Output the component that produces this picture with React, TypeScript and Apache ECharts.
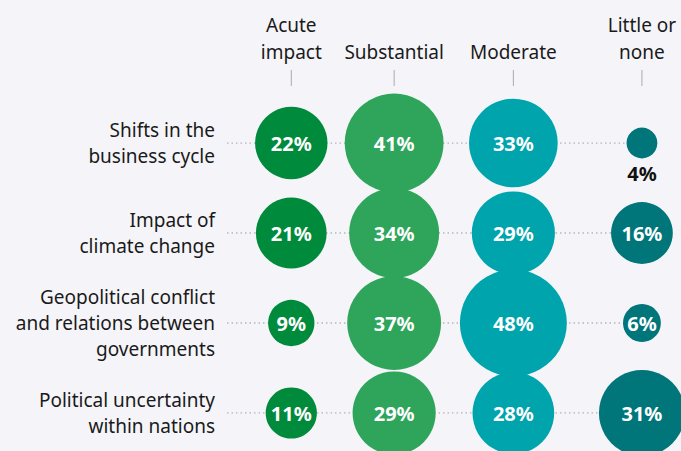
import React, { useEffect, useRef } from "react";
import * as echarts from "echarts";

const columns = ["Acute\nimpact", "Substantial", "Moderate", "Little or\nnone"];
const rows = [
  "Shifts in the\nbusiness cycle",
  "Impact of\nclimate change",
  "Geopolitical conflict\nand relations between\ngovernments",
  "Political uncertainty\nwithin nations",
];
const acuteImpact = [22, 21, 9, 11];
const substantial = [41, 34, 37, 29];
const moderate = [33, 29, 48, 28];
const littleOrNone = [4, 16, 6, 31];

const seriesValues = [acuteImpact, substantial, moderate, littleOrNone];
const colors = ["#008a3c", "#2ea55a", "#00a4ad", "#00767a"];
// layout: horizontal placement of the columns along the x value axis
const colPos = [0, 0.88, 1.9, 3];
const X_MIN = -0.55;
const X_MAX = 3.3;
const FONT = "Noto Sans";

export default function App() {
  const ref = useRef<HTMLDivElement>(null);
  useEffect(() => {
    if (!ref.current) return;
    const chart = echarts.init(ref.current, null, { renderer: "svg" });
    const bubbleSeries = seriesValues.map((vals, c) => ({
      type: "scatter",
      name: columns[c],
      clip: false,
      z: 3,
      symbolSize: (d: any) => 15.44 * Math.sqrt(d[2]),
      itemStyle: { color: colors[c], opacity: 1 },
      emphasis: { disabled: true },
      label: {
        show: true,
        position: "inside",
        formatter: (p: any) => p.value[2] + "%",
        color: "#ffffff",
        fontFamily: FONT,
        fontWeight: "bold",
        fontSize: 20,
      },
      data: vals.map((v, i) => {
        const item: any = { value: [colPos[c], rows[i], v] };
        if (v < 5) {
          item.label = {
            position: "bottom",
            distance: 5,
            color: "#111111",
          };
        }
        return item;
      }),
    }));
    const dotted = rows.map((r) => ({
      type: "line",
      z: 1,
      silent: true,
      symbol: "none",
      lineStyle: { color: "#b5b5bd", width: 1.5, type: [1.5, 3] },
      data: [
        [X_MIN, r],
        [colPos[colPos.length - 1], r],
      ],
    }));
    chart.setOption({
      animation: false,
      backgroundColor: "#f5f5f9",
      grid: { left: 227, right: 4, top: 143, bottom: 38 },
      xAxis: {
        type: "value",
        min: X_MIN,
        max: X_MAX,
        show: false,
      },
      yAxis: {
        type: "category",
        data: rows,
        inverse: true,
        boundaryGap: false,
        axisLine: { show: false },
        axisTick: { show: false },
        splitLine: { show: false },
        axisLabel: {
          margin: 12,
          color: "#1a1a1a",
          fontFamily: FONT,
          fontSize: 19,
          lineHeight: 26,
          align: "right",
        },
      },
      series: [...dotted, ...bubbleSeries],
    });
    const graphic: any[] = [];
    columns.forEach((name, c) => {
      const x = chart.convertToPixel({ xAxisIndex: 0 }, colPos[c]) as number;
      graphic.push({
        type: "text",
        x,
        y: 65,
        style: {
          text: name,
          align: "center",
          verticalAlign: "bottom",
          fill: "#1a1a1a",
          font: `19px ${FONT}`,
          lineHeight: 27,
        },
      });
      graphic.push({
        type: "line",
        shape: { x1: x, y1: 70, x2: x, y2: 86 },
        style: { stroke: "#a8a8b0", lineWidth: 1 },
      });
    });
    chart.setOption({ graphic });
    return () => chart.dispose();
  }, []);
  return (
    <div
      ref={ref}
      style={{ position: "absolute", left: 0, top: 0, width: 681, height: 451 }}
    />
  );
}
